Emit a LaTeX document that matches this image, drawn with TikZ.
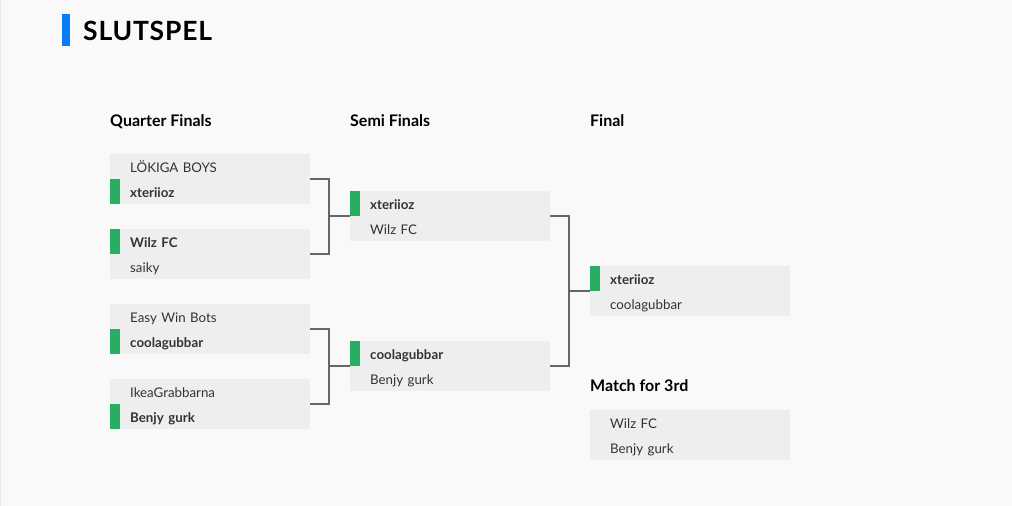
\documentclass[tikz,border=0pt]{standalone}
\usepackage{fontspec}
\setmainfont{Lato}
\usetikzlibrary{calc}
\definecolor{bgc}{HTML}{F9F9F9}
\definecolor{boxc}{HTML}{EEEEEE}
\definecolor{txtc}{HTML}{333333}
\definecolor{winc}{HTML}{27AE60}
\definecolor{bluec}{HTML}{0A7CF2}
\definecolor{connc}{HTML}{666666}
\definecolor{edgec}{HTML}{E8E8E8}
\begin{document}
\begin{tikzpicture}[x=1pt,y=-1pt,
  row/.style={anchor=north west, fill=boxc, minimum width=200pt, minimum height=25pt,
    text width=160pt, inner xsep=20pt, inner ysep=0pt, text height=12pt, text depth=0pt,
    align=left, text=txtc, font=\fontsize{13.3}{16}\selectfont},
  winrow/.style={row, font=\fontsize{13.3}{16}\selectfont\bfseries},
  winbar/.style={anchor=north west, fill=winc, minimum width=10pt, minimum height=25pt, inner sep=0pt},
  header/.style={anchor=base west, inner sep=0pt, text=black, font=\fontsize{16}{19}\selectfont\bfseries},
  conn/.style={draw=connc, line width=2pt}]
\fill[bgc] (0,0) rectangle (1012,506);
\useasboundingbox (0,0) rectangle (1012,506);
\draw[edgec, line width=1pt] (0.5,0) -- (0.5,506);
% title
\node[anchor=north west, fill=bluec, minimum width=8pt, minimum height=32pt, inner sep=0pt] (tbar) at (62,14) {};
\node[anchor=base west, inner sep=0pt, text=black, font=\fontsize{26.5}{30}\selectfont\bfseries\addfontfeature{LetterSpace=3}] (title) at (83,40) {SLUTSPEL};
% headers
\node[header] (hqf) at (110,126) {Quarter Finals};
\node[header] (hsf) at (350,126) {Semi Finals};
\node[header] (hf) at (590,126) {Final};
\node[header] (h3) at (590,391) {Match for 3rd};
% quarter finals
\node[row] (qf1a) at (110,154) {LÖKIGA BOYS};
\node[winrow] (qf1b) at (110,179) {xteriioz};
\node[winbar] (w1) at (qf1b.north west) {};
\node[winrow] (qf2a) at (110,229) {Wilz FC};
\node[winbar] (w2) at (qf2a.north west) {};
\node[row] (qf2b) at (110,254) {saiky};
\node[row] (qf3a) at (110,304) {Easy Win Bots};
\node[winrow] (qf3b) at (110,329) {coolagubbar};
\node[winbar] (w3) at (qf3b.north west) {};
\node[row] (qf4a) at (110,379) {IkeaGrabbarna};
\node[winrow] (qf4b) at (110,404) {Benjy gurk};
\node[winbar] (w4) at (qf4b.north west) {};
% semi finals
\node[winrow] (sf1a) at (350,191) {xteriioz};
\node[winbar] (w5) at (sf1a.north west) {};
\node[row] (sf1b) at (350,216) {Wilz FC};
\node[winrow] (sf2a) at (350,341) {coolagubbar};
\node[winbar] (w6) at (sf2a.north west) {};
\node[row] (sf2b) at (350,366) {Benjy gurk};
% final
\node[winrow] (fa) at (590,266) {xteriioz};
\node[winbar] (w7) at (fa.north west) {};
\node[row] (fb) at (590,291) {coolagubbar};
% third place
\node[row] (ta) at (590,410) {Wilz FC};
\node[row] (tb) at (590,435) {Benjy gurk};
% connectors
\coordinate (j1) at ([xshift=19pt]qf1a.south east |- sf1a.south west);
\coordinate (j2) at ([xshift=19pt]qf3a.south east |- sf2a.south west);
\coordinate (j3) at ([xshift=19pt]sf1a.south east |- fa.south west);
\draw[conn] (qf1a.south east) -| (j1) |- (qf2a.south east);
\draw[conn] (j1) -- (sf1a.south west);
\draw[conn] (qf3a.south east) -| (j2) |- (qf4a.south east);
\draw[conn] (j2) -- (sf2a.south west);
\draw[conn] (sf1a.south east) -| (j3) |- (sf2a.south east);
\draw[conn] (j3) -- (fa.south west);
\end{tikzpicture}
\end{document}
